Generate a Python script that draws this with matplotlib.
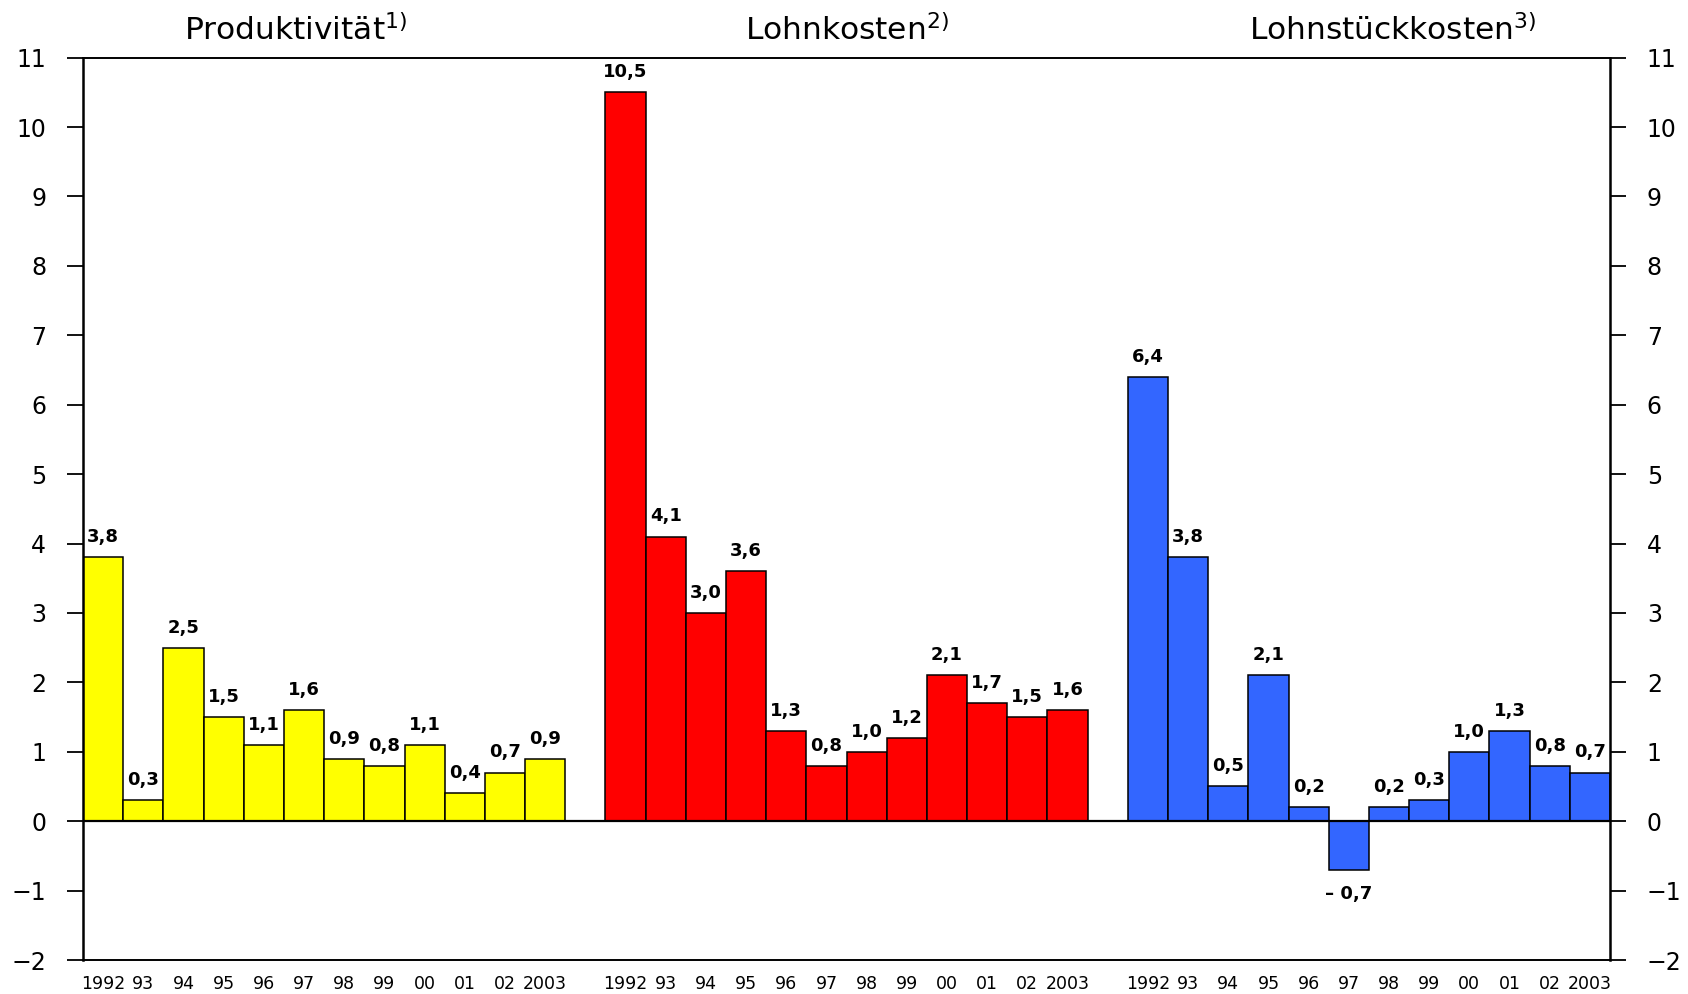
#!/usr/bin/env python3
"""Produktivität, Lohnkosten, Lohnstückkosten 1992-2003 als Balkengruppen."""

import matplotlib

matplotlib.use("Agg")
import matplotlib.pyplot as plt

plt.rcParams["font.family"] = ["DejaVu Sans"]
plt.rcParams["mathtext.default"] = "regular"

YEARS = ["1992", "93", "94", "95", "96", "97", "98", "99", "00", "01", "02", "2003"]

TITLES = ["Produktivität$^{1)}$", "Lohnkosten$^{2)}$", "Lohnstückkosten$^{3)}$"]
PRODUKTIVITAET = [3.8, 0.3, 2.5, 1.5, 1.1, 1.6, 0.9, 0.8, 1.1, 0.4, 0.7, 0.9]
LOHNKOSTEN = [10.5, 4.1, 3.0, 3.6, 1.3, 0.8, 1.0, 1.2, 2.1, 1.7, 1.5, 1.6]
LOHNSTUECKKOSTEN = [6.4, 3.8, 0.5, 2.1, 0.2, -0.7, 0.2, 0.3, 1.0, 1.3, 0.8, 0.7]

COLORS = ["#ffff00", "#ff0000", "#3366ff"]
Y_TICKS = list(range(-2, 12))


def fmt(v):
    s = f"{abs(v):.1f}".replace(".", ",")
    return f"\u2013 {s}" if v < 0 else s


fig = plt.figure(figsize=(16.88, 9.94), dpi=100)
ax = fig.add_axes([0.0492, 0.0342, 0.9046, 0.9078])

groups = [PRODUKTIVITAET, LOHNKOSTEN, LOHNSTUECKKOSTEN]
title_x = [5.3, 19.0, 32.6]
xticks, xlabels = [], []
for g, (values, color) in enumerate(zip(groups, COLORS)):
    start = g * 13
    xs = [start + i + 0.5 for i in range(len(values))]
    ax.bar(xs, values, width=1.0, color=color, edgecolor="black", linewidth=1.1, zorder=2)
    for x, v in zip(xs, values):
        if v >= 0:
            ax.annotate(fmt(v), (x, v), xytext=(0, 8), textcoords="offset points",
                        ha="center", va="bottom", fontsize=13, fontweight="bold")
        else:
            ax.annotate(fmt(v), (x, v), xytext=(0, -11), textcoords="offset points",
                        ha="center", va="top", fontsize=13, fontweight="bold")
    xticks += xs
    xlabels += YEARS
    ax.text(title_x[g], 1.0196, TITLES[g], transform=ax.get_xaxis_transform(),
            ha="center", va="baseline", fontsize=22.5)

ax.axhline(0, color="black", linewidth=1.6, zorder=3)

ax.set_xlim(0, 38)
ax.set_ylim(-2, 11)
ax.set_yticks(Y_TICKS)
ax.set_yticklabels([str(t).replace("-", "\u2212") for t in Y_TICKS])
ax.set_xticks(xticks)
ax.set_xticklabels(xlabels)

ax.tick_params(axis="y", which="both", left=True, right=True, labelleft=True,
               labelright=True, length=11.5, width=1.3, pad=15, labelsize=17)
ax.tick_params(axis="x", length=0, pad=11, labelsize=12.5)
for lab in ax.get_xticklabels():
    lab.set_fontweight("medium")

for side in ["left", "right"]:
    ax.spines[side].set_linewidth(1.8)
for side in ["top", "bottom"]:
    ax.spines[side].set_linewidth(1.4)

fig.savefig("out.png", dpi=100)
